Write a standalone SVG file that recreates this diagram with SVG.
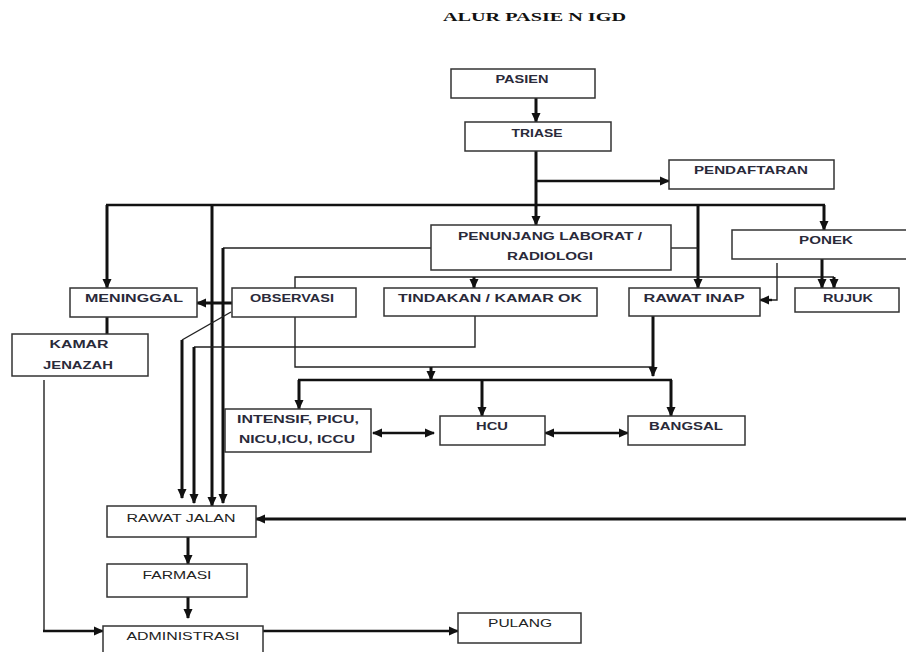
<svg xmlns="http://www.w3.org/2000/svg" width="906" height="652" viewBox="0 0 906 652">
<style>
.box{fill:#fff;stroke:#333;stroke-width:1.5}
.t{font-family:"Liberation Sans",Arial,sans-serif;font-size:11px;font-weight:bold;fill:#2a2a3a;text-anchor:middle}
.tb{font-family:"Liberation Sans",Arial,sans-serif;font-size:11px;fill:#222;text-anchor:middle}
.thick{stroke:#111;stroke-width:3;fill:none}
.med{stroke:#111;stroke-width:2.4;fill:none}
.thin{stroke:#222;stroke-width:1.4;fill:none}
.title{font-family:"Liberation Serif","Times New Roman",serif;font-size:13px;font-weight:bold;fill:#111}
</style>
<defs>
<marker id="ah" markerUnits="userSpaceOnUse" markerWidth="10" markerHeight="10" viewBox="0 0 10 10" refX="9" refY="5" orient="auto-start-reverse">
<path d="M0,0.5 L10,5 L0,9.5 z" fill="#111"/>
</marker>
</defs>
<rect width="906" height="652" fill="#fff"/>
<text class="title" x="443" y="21" textLength="183" lengthAdjust="spacingAndGlyphs">ALUR PASIE N IGD</text>

<g id="connectors">
<!-- PASIEN -> TRIASE -->
<line class="thick" x1="536" y1="98" x2="536" y2="122" marker-end="url(#ah)"/>
<!-- TRIASE -> PENUNJANG -->
<line class="thick" x1="536" y1="151" x2="536" y2="225" marker-end="url(#ah)"/>
<line class="med" x1="536" y1="181" x2="669" y2="181" marker-end="url(#ah)"/>
<!-- top distribution line -->
<line class="med" x1="106" y1="205" x2="825" y2="205"/>
<line class="thick" x1="107" y1="205" x2="107" y2="288" marker-end="url(#ah)"/>
<line class="thick" x1="212" y1="205" x2="212" y2="506" marker-end="url(#ah)"/>
<line class="thick" x1="698" y1="205" x2="698" y2="288" marker-end="url(#ah)"/>
<line class="thick" x1="824" y1="205" x2="824" y2="230" marker-end="url(#ah)"/>
<!-- PENUNJANG sides -->
<polyline class="thin" points="431,248 223,248"/>
<line class="thick" x1="223" y1="248" x2="223" y2="503" marker-end="url(#ah)"/>
<line class="thin" x1="671" y1="248" x2="698" y2="248"/>
<!-- line y=277 from OBSERVASI top -->
<polyline class="thin" points="295,288 295,277 834,277"/>
<line class="thick" x1="474" y1="277" x2="474" y2="288" marker-end="url(#ah)"/>
<line class="thick" x1="834" y1="277" x2="834" y2="288" marker-end="url(#ah)"/>
<!-- PONEK -> RUJUK -->
<line class="thick" x1="822" y1="259" x2="822" y2="288" marker-end="url(#ah)"/>
<!-- PONEK -> RAWAT INAP -->
<polyline class="thin" points="777,263 777,300 770,300"/>
<line class="med" x1="772" y1="300" x2="760" y2="300" marker-end="url(#ah)"/>
<!-- OBSERVASI -> MENINGGAL -->
<line class="thick" x1="232" y1="303" x2="197" y2="303" marker-end="url(#ah)"/>
<!-- MENINGGAL -> KAMAR JENAZAH -->
<line class="thick" x1="107" y1="317" x2="107" y2="334"/>
<!-- KAMAR JENAZAH -> ADMINISTRASI -->
<polyline class="thin" points="44,380 44,631 60,631"/>
<line class="med" x1="43" y1="631" x2="103" y2="631" marker-end="url(#ah)"/>
<!-- OBSERVASI diagonal -> RAWAT JALAN -->
<polyline class="thin" points="231,312 182,340"/>
<line class="thick" x1="182" y1="340" x2="182" y2="498" marker-end="url(#ah)"/>
<!-- TINDAKAN -> RAWAT JALAN -->
<polyline class="thin" points="475,316 475,347 194,347"/>
<line class="thick" x1="194" y1="347" x2="194" y2="503" marker-end="url(#ah)"/>
<!-- OBSERVASI bottom / RAWAT INAP bottom -->
<polyline class="thin" points="295,317 295,367 653,367"/>
<line class="thick" x1="653" y1="316" x2="653" y2="376" marker-end="url(#ah)"/>
<line class="thick" x1="431" y1="367" x2="431" y2="380" marker-end="url(#ah)"/>
<!-- distribution y=380 -->
<line class="med" x1="298" y1="380" x2="672" y2="380"/>
<line class="thick" x1="299" y1="380" x2="299" y2="409" marker-end="url(#ah)"/>
<line class="thick" x1="482" y1="380" x2="482" y2="416" marker-end="url(#ah)"/>
<line class="thick" x1="671" y1="380" x2="671" y2="416" marker-end="url(#ah)"/>
<!-- double arrows -->
<line class="med" x1="373" y1="433" x2="434" y2="433" marker-start="url(#ah)" marker-end="url(#ah)"/>
<line class="med" x1="545" y1="433" x2="628" y2="433" marker-start="url(#ah)" marker-end="url(#ah)"/>
<!-- right long arrow -->
<line class="thick" x1="906" y1="519" x2="256" y2="519" marker-end="url(#ah)"/>
<!-- bottom chain -->
<line class="thick" x1="188" y1="537" x2="188" y2="564" marker-end="url(#ah)"/>
<line class="thick" x1="188" y1="597" x2="188" y2="618" marker-end="url(#ah)"/>
<line class="med" x1="263" y1="631" x2="458" y2="631" marker-end="url(#ah)"/>
</g>

<g id="pasien"><rect class="box" x="451" y="69" width="144" height="29"/><text class="t" x="522" y="83" textLength="53" lengthAdjust="spacingAndGlyphs">PASIEN</text></g>
<g id="triase"><rect class="box" x="465" y="122" width="146" height="29"/><text class="t" x="537" y="137" textLength="51" lengthAdjust="spacingAndGlyphs">TRIASE</text></g>
<g id="pendaftaran"><rect class="box" x="669" y="160" width="165" height="29"/><text class="t" x="751" y="174" textLength="114" lengthAdjust="spacingAndGlyphs">PENDAFTARAN</text></g>
<g id="penunjang"><rect class="box" x="431" y="225" width="240" height="45"/><text class="t" x="550" y="240" textLength="184" lengthAdjust="spacingAndGlyphs">PENUNJANG LABORAT /</text><text class="t" x="550" y="260" textLength="86" lengthAdjust="spacingAndGlyphs">RADIOLOGI</text></g>
<g id="ponek"><rect class="box" x="732" y="230" width="180" height="29"/><text class="t" x="826" y="244" textLength="54" lengthAdjust="spacingAndGlyphs">PONEK</text></g>
<g id="meninggal"><rect class="box" x="70" y="288" width="127" height="29"/><text class="t" x="134" y="302" textLength="98" lengthAdjust="spacingAndGlyphs">MENINGGAL</text></g>
<g id="observasi"><rect class="box" x="232" y="288" width="124" height="29"/><text class="t" x="292" y="302" textLength="84" lengthAdjust="spacingAndGlyphs">OBSERVASI</text></g>
<g id="tindakan"><rect class="box" x="384" y="288" width="213" height="28"/><text class="t" x="490" y="302" textLength="184" lengthAdjust="spacingAndGlyphs">TINDAKAN / KAMAR OK</text></g>
<g id="rawat-inap"><rect class="box" x="629" y="288" width="131" height="28"/><text class="t" x="694" y="302" textLength="101" lengthAdjust="spacingAndGlyphs">RAWAT INAP</text></g>
<g id="rujuk"><rect class="box" x="795" y="288" width="104" height="24"/><text class="t" x="848" y="302" textLength="50" lengthAdjust="spacingAndGlyphs">RUJUK</text></g>
<g id="kamar-jenazah"><rect class="box" x="12" y="334" width="136" height="42"/><text class="t" x="79" y="348" textLength="59" lengthAdjust="spacingAndGlyphs">KAMAR</text><text class="t" x="78" y="369" textLength="70" lengthAdjust="spacingAndGlyphs">JENAZAH</text></g>
<g id="intensif"><rect class="box" x="225" y="409" width="146" height="43"/><text class="t" x="298" y="423" textLength="122" lengthAdjust="spacingAndGlyphs">INTENSIF, PICU,</text><text class="t" x="297" y="443" textLength="116" lengthAdjust="spacingAndGlyphs">NICU,ICU, ICCU</text></g>
<g id="hcu"><rect class="box" x="440" y="416" width="105" height="29"/><text class="t" x="492" y="430" textLength="32" lengthAdjust="spacingAndGlyphs">HCU</text></g>
<g id="bangsal"><rect class="box" x="628" y="416" width="117" height="29"/><text class="t" x="686" y="430" textLength="74" lengthAdjust="spacingAndGlyphs">BANGSAL</text></g>
<g id="rawat-jalan"><rect class="box" x="107" y="506" width="149" height="31"/><text class="tb" x="181" y="522" textLength="109" lengthAdjust="spacingAndGlyphs">RAWAT JALAN</text></g>
<g id="farmasi"><rect class="box" x="107" y="564" width="140" height="33"/><text class="tb" x="177" y="579" textLength="69" lengthAdjust="spacingAndGlyphs">FARMASI</text></g>
<g id="administrasi"><rect class="box" x="103" y="626" width="160" height="40"/><text class="tb" x="183" y="640" textLength="113" lengthAdjust="spacingAndGlyphs">ADMINISTRASI</text></g>
<g id="pulang"><rect class="box" x="458" y="613" width="123" height="30"/><text class="tb" x="520" y="627" textLength="64" lengthAdjust="spacingAndGlyphs">PULANG</text></g>
</svg>
